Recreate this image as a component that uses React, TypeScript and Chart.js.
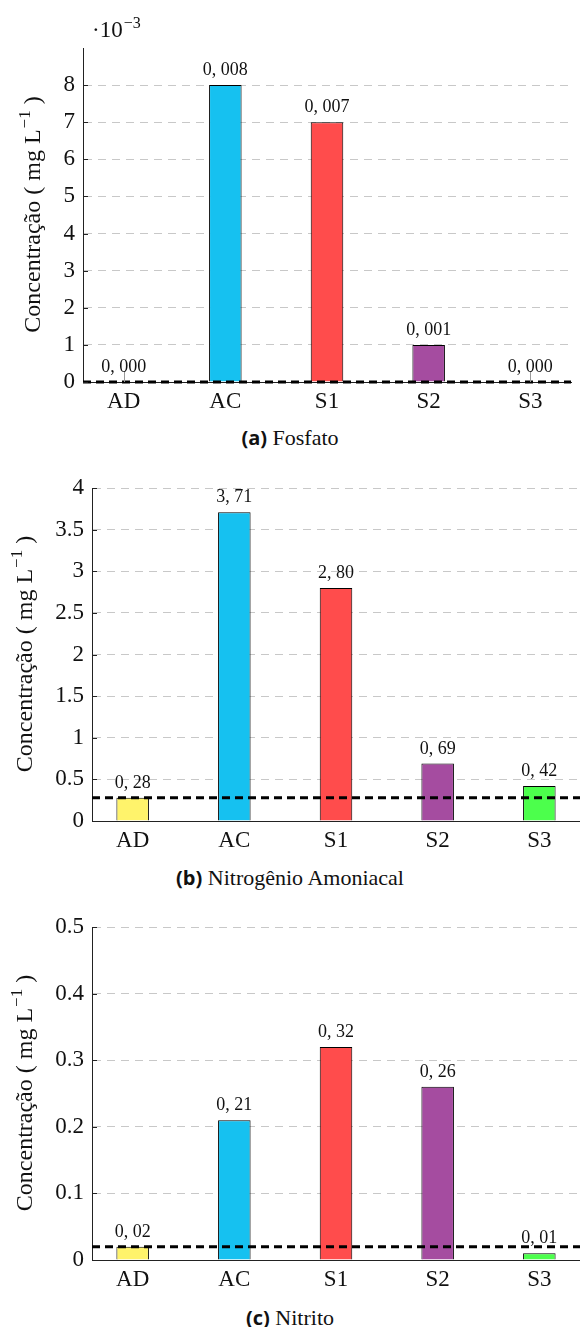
import React, { useEffect, useRef } from "react";
import { Chart, registerables } from "chart.js";

Chart.register(...registerables);

// ---------- data ----------
const categories = ["AD", "AC", "S1", "S2", "S3"];
const barColors = ["#FFF36B", "#16C1F0", "#FF4C4C", "#A54CA0", "#4CFF4C"];

const fosfatoValues = [0.0, 0.008, 0.007, 0.001, 0.0];
const nitrogenioValues = [0.28, 3.71, 2.8, 0.69, 0.42];
const nitritoValues = [0.02, 0.21, 0.32, 0.26, 0.01];

const fosfatoTicks = [0, 1, 2, 3, 4, 5, 6, 7, 8];
const nitrogenioTicks = [0, 0.5, 1, 1.5, 2, 2.5, 3, 3.5, 4];
const nitritoTicks = [0, 0.1, 0.2, 0.3, 0.4, 0.5];

const fosfatoLimit = 0;
const nitrogenioLimit = 0.28;
const nitritoLimit = 0.02;

const captionA = ["(a)", "Fosfato"];
const captionB = ["(b)", "Nitrogênio Amoniacal"];
const captionC = ["(c)", "Nitrito"];

const axisTitleMain = "Concentração ( mg L";
const axisTitleSup = "−1";
const axisTitleEnd = " )";

// ---------- style ----------
const SERIF = '"Liberation Serif", "Times New Roman", serif';
const SANS = '"Open Sans", "Noto Sans", sans-serif';
const TEXT = "#111";

type PanelDef = {
  values: number[];
  ticks: number[];
  limit: number;
  factor: number;
  yMax: number;
  decimals: number;
  multiplier?: string;
  caption: string[];
  top: number;
  axisLeft: number;
  padRight: number;
  padTop: number;
  bottom: number;
  titleX: number;
};

const panels: PanelDef[] = [
  {
    values: fosfatoValues, ticks: fosfatoTicks, limit: fosfatoLimit, factor: 1000, yMax: 9,
    decimals: 3, multiplier: "−3", caption: captionA, top: 0, axisLeft: 83, padRight: 9,
    padTop: 48, bottom: 382, titleX: 32,
  },
  {
    values: nitrogenioValues, ticks: nitrogenioTicks, limit: nitrogenioLimit, factor: 1, yMax: 4,
    decimals: 2, caption: captionB, top: 440, axisLeft: 92, padRight: 0,
    padTop: 48, bottom: 381, titleX: 24,
  },
  {
    values: nitritoValues, ticks: nitritoTicks, limit: nitritoLimit, factor: 1, yMax: 0.5,
    decimals: 2, caption: captionC, top: 880, axisLeft: 92, padRight: 0,
    padTop: 47, bottom: 380, titleX: 24,
  },
];

const CANVAS_H = 420;
const W = 580;

function fmtValue(v: number, d: number) {
  return v.toFixed(d).replace(".", ", ");
}

function Panel({ p }: { p: PanelDef }) {
  const ref = useRef<HTMLCanvasElement | null>(null);

  useEffect(() => {
    if (!ref.current) return;
    const overlay = {
      id: "overlay" + p.top,
      afterDatasetsDraw(chart: any) {
        const { ctx, chartArea } = chart;
        const y = chart.scales.y;
        // reference (limit) line
        const ly = y.getPixelForValue(p.limit * p.factor);
        ctx.save();
        ctx.strokeStyle = "#000";
        ctx.lineWidth = 3;
        ctx.setLineDash([8, 5]);
        ctx.beginPath();
        ctx.moveTo(chartArea.left, ly);
        ctx.lineTo(chartArea.right, ly);
        ctx.stroke();
        ctx.restore();

        // value labels
        const meta = chart.getDatasetMeta(0);
        const base = y.getPixelForValue(0);
        ctx.save();
        ctx.font = `18px ${SERIF}`;
        ctx.fillStyle = TEXT;
        ctx.textAlign = "center";
        ctx.textBaseline = "alphabetic";
        meta.data.forEach((bar: any, i: number) => {
          const top = bar.y;
          if (base - top < 5) {
            ctx.save();
            ctx.strokeStyle = "#999";
            ctx.lineWidth = 1;
            ctx.beginPath();
            ctx.moveTo(Math.round(bar.x) + 0.5, top);
            ctx.lineTo(Math.round(bar.x) + 0.5, top - 11);
            ctx.stroke();
            ctx.restore();
          }
          ctx.fillText(fmtValue(p.values[i], p.decimals), bar.x, top - 10);
        });
        ctx.restore();
      },
      afterDraw(chart: any) {
        const { ctx, chartArea } = chart;
        const y = chart.scales.y;
        // inside tick marks
        ctx.save();
        ctx.strokeStyle = "#222";
        ctx.lineWidth = 1;
        p.ticks.forEach((t) => {
          const py = Math.round(y.getPixelForValue(t)) + 0.5;
          ctx.beginPath();
          ctx.moveTo(chartArea.left, py);
          ctx.lineTo(chartArea.left + 5, py);
          ctx.stroke();
        });
        ctx.restore();

        // axis title (rotated, with superscript)
        ctx.save();
        const cy = (chartArea.top + chartArea.bottom) / 2;
        ctx.translate(p.titleX, cy);
        ctx.rotate(-Math.PI / 2);
        ctx.fillStyle = TEXT;
        ctx.textBaseline = "alphabetic";
        ctx.textAlign = "left";
        const mainFont = `24px ${SERIF}`;
        const supFont = `17px ${SERIF}`;
        ctx.font = mainFont;
        const w1 = ctx.measureText(axisTitleMain).width;
        const w3 = ctx.measureText(axisTitleEnd).width;
        ctx.font = supFont;
        const w2 = ctx.measureText(axisTitleSup).width;
        let x0 = -(w1 + w2 + w3) / 2;
        const bl = 8;
        ctx.font = mainFont;
        ctx.fillText(axisTitleMain, x0, bl);
        x0 += w1 + 1;
        ctx.font = supFont;
        ctx.fillText(axisTitleSup, x0, bl - 10);
        x0 += w2;
        ctx.font = mainFont;
        ctx.fillText(axisTitleEnd, x0, bl);
        ctx.restore();

        // multiplier label
        if (p.multiplier) {
          ctx.save();
          ctx.fillStyle = TEXT;
          ctx.textAlign = "left";
          ctx.textBaseline = "alphabetic";
          ctx.font = `23px ${SERIF}`;
          const mx = chartArea.left + 9;
          ctx.fillText("·10", mx, 37);
          const mw = ctx.measureText("·10").width;
          ctx.font = `16px ${SERIF}`;
          ctx.fillText(p.multiplier, mx + mw + 1, 28);
          ctx.restore();
        }
      },
    };

    const chart = new Chart(ref.current, {
      type: "bar",
      data: {
        datasets: [
          {
            data: p.values.map((v, i) => ({ x: i, y: v * p.factor })),
            backgroundColor: barColors,
            borderColor: "#000",
            borderWidth: 1,
            barPercentage: 0.32,
            categoryPercentage: 1,
          } as any,
        ],
      },
      options: {
        animation: false,
        responsive: false,
        maintainAspectRatio: false,
        layout: { padding: { top: p.padTop, right: p.padRight, left: 0, bottom: 0 } },
        plugins: { legend: { display: false }, tooltip: { enabled: false } },
        scales: {
          x: {
            type: "linear",
            offset: false,
            min: -0.4,
            max: 4.4,
            afterBuildTicks: (s: any) => {
              s.ticks = categories.map((_, i) => ({ value: i }));
            },
            afterFit: (s: any) => {
              s.height = CANVAS_H - p.bottom;
            },
            ticks: {
              callback: (v: any) => categories[Math.round(Number(v))] ?? "",
              font: { family: SERIF, size: 23 },
              color: TEXT,
              padding: 6,
              autoSkip: false,
              maxRotation: 0,
            },
            grid: { display: false, drawTicks: false, offset: false },
            border: { display: true, color: "#222", width: 1 },
          },
          y: {
            type: "linear",
            min: 0,
            max: p.yMax,
            afterBuildTicks: (s: any) => {
              s.ticks = p.ticks.map((v) => ({ value: v }));
            },
            afterFit: (s: any) => {
              s.width = p.axisLeft;
            },
            ticks: {
              callback: (v: any) => String(Math.round(Number(v) * 100) / 100),
              font: { family: SERIF, size: 23 },
              color: TEXT,
              padding: 8,
            },
            grid: { color: "#c8c8c8", lineWidth: 1, drawTicks: false },
            border: { display: true, color: "#222", width: 1, dash: [8, 6] },
          },
        },
      } as any,
      plugins: [overlay],
    });
    return () => chart.destroy();
  }, [p]);

  return (
    <div style={{ position: "absolute", left: 0, top: p.top, width: W, height: 440 }}>
      <canvas
        ref={ref}
        width={W}
        height={CANVAS_H}
        style={{ width: W, height: CANVAS_H, display: "block" }}
      />
      <div
        style={{
          position: "absolute",
          left: 0,
          top: 426,
          width: W,
          textAlign: "center",
          fontSize: 22,
          lineHeight: "24px",
          whiteSpace: "nowrap",
          color: TEXT,
        }}
      >
        <span style={{ fontFamily: SANS, fontWeight: 700, fontSize: 20 }}>{p.caption[0]}</span>
        <span style={{ fontFamily: SERIF }}> {p.caption[1]}</span>
      </div>
    </div>
  );
}

export default function App() {
  return (
    <div
      style={{
        position: "absolute",
        left: 0,
        top: 0,
        width: W,
        height: 1327,
        background: "#fff",
        overflow: "hidden",
      }}
    >
      {panels.map((p) => (
        <Panel key={p.top} p={p} />
      ))}
    </div>
  );
}
